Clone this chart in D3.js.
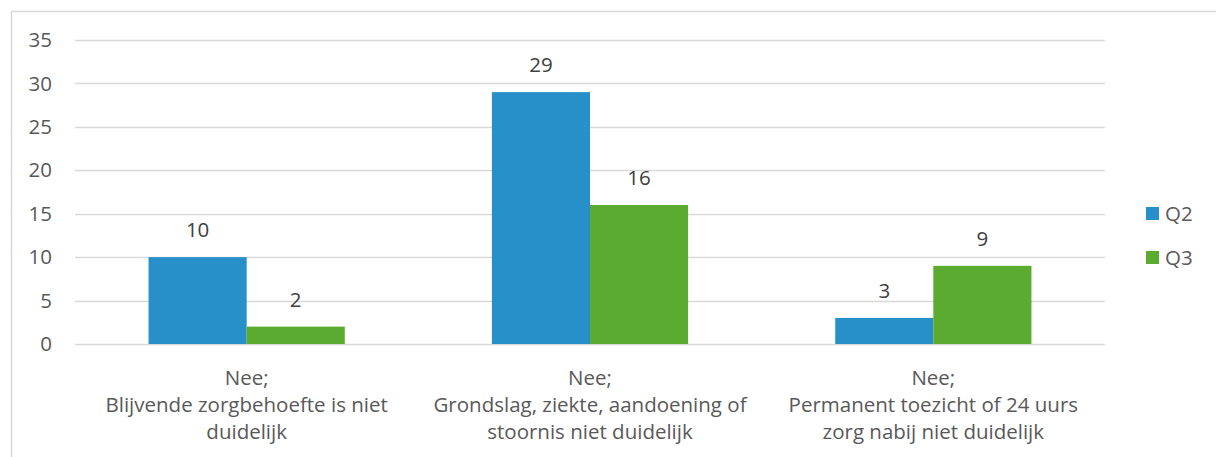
<!DOCTYPE html>
<html>
<head>
<meta charset="utf-8">
<script src="https://cdn.jsdelivr.net/npm/d3@7"></script>
<style>
  body { margin: 0; background: #fff; }
  text { font-family: "Open Sans", "Noto Sans", sans-serif; }
</style>
</head>
<body>
<script>
// data
const categories = [
  ["Nee;", "Blijvende zorgbehoefte is niet", "duidelijk"],
  ["Nee;", "Grondslag, ziekte, aandoening of", "stoornis niet duidelijk"],
  ["Nee;", "Permanent toezicht of 24 uurs", "zorg nabij niet duidelijk"]
];
const series = ["Q2", "Q3"];
const q2Values = [10, 29, 3];
const q3Values = [2, 16, 9];
const yTicks = [0, 5, 10, 15, 20, 25, 30, 35];
const colors = ["#2890C8", "#5AAB2F"];

const width = 1216, height = 457;
const margin = {top: 40, left: 75, right: 111, bottom: 113};
const plotW = width - margin.left - margin.right;
const plotH = height - margin.top - margin.bottom;
const fs = 20.5;

let svg = d3.select("body").append("svg")
        .attr("width", width)
        .attr("height", height);

// chart frame
svg.append("path")
   .attr("d", "M11.5," + height + " L11.5,11.5 L" + width + ",11.5")
   .attr("fill", "none")
   .attr("stroke", "#d9d9d9")
   .attr("stroke-width", 1.5);

let g = svg.append("g")
        .attr("transform", "translate(" + margin.left + "," + margin.top + ")");

let y = d3.scaleLinear().domain([0, 35]).range([plotH, 0]);
let x0 = d3.scaleBand().domain(d3.range(categories.length)).range([0, plotW]).padding(0);
// 150% gap width: two bars + 1.5 bar widths per category
let barW = x0.bandwidth() / 3.5;

// gridlines
g.selectAll(".grid").data(yTicks).enter().append("line")
  .attr("x1", 0).attr("x2", plotW)
  .attr("y1", d => Math.round(y(d)) + 0.5)
  .attr("y2", d => Math.round(y(d)) + 0.5)
  .attr("stroke", "#d9d9d9")
  .attr("stroke-width", 1.3);

// y labels
g.selectAll(".ylab").data(yTicks).enter().append("text")
  .attr("x", -23)
  .attr("y", d => y(d))
  .attr("dy", "0.35em")
  .attr("text-anchor", "end")
  .attr("font-size", fs)
  .attr("fill", "#595959")
  .text(d => d);

const allSeries = [q2Values, q3Values];
allSeries.forEach(function(vals, si){
  let bx = i => x0(i) + x0.bandwidth() / 2 - barW + si * barW;
  g.selectAll(".bar" + si).data(vals).enter().append("rect")
    .attr("x", (d, i) => bx(i))
    .attr("y", d => y(d))
    .attr("width", barW)
    .attr("height", d => y(0) - y(d))
    .attr("fill", colors[si]);
  g.selectAll(".val" + si).data(vals).enter().append("text")
    .attr("x", (d, i) => bx(i) + barW / 2)
    .attr("y", d => y(d) - 20)
    .attr("text-anchor", "middle")
    .attr("font-size", fs)
    .attr("fill", "#404040")
    .text(d => d);
});

// category labels
categories.forEach(function(lines, i){
  let t = g.append("text")
    .attr("x", x0(i) + x0.bandwidth() / 2)
    .attr("y", plotH + 41)
    .attr("text-anchor", "middle")
    .attr("font-size", fs)
    .attr("fill", "#595959");
  lines.forEach(function(line, li){
    t.append("tspan")
     .attr("x", x0(i) + x0.bandwidth() / 2)
     .attr("dy", li === 0 ? 0 : 27)
     .text(line);
  });
});

// legend
series.forEach(function(s, i){
  let ly = 214 + i * 44;
  svg.append("rect")
     .attr("x", 1146).attr("y", ly - 7)
     .attr("width", 13).attr("height", 13)
     .attr("fill", colors[i]);
  svg.append("text")
     .attr("x", 1165).attr("y", ly)
     .attr("dy", "0.35em")
     .attr("font-size", fs)
     .attr("fill", "#595959")
     .text(s);
});
</script>
</body>
</html>
